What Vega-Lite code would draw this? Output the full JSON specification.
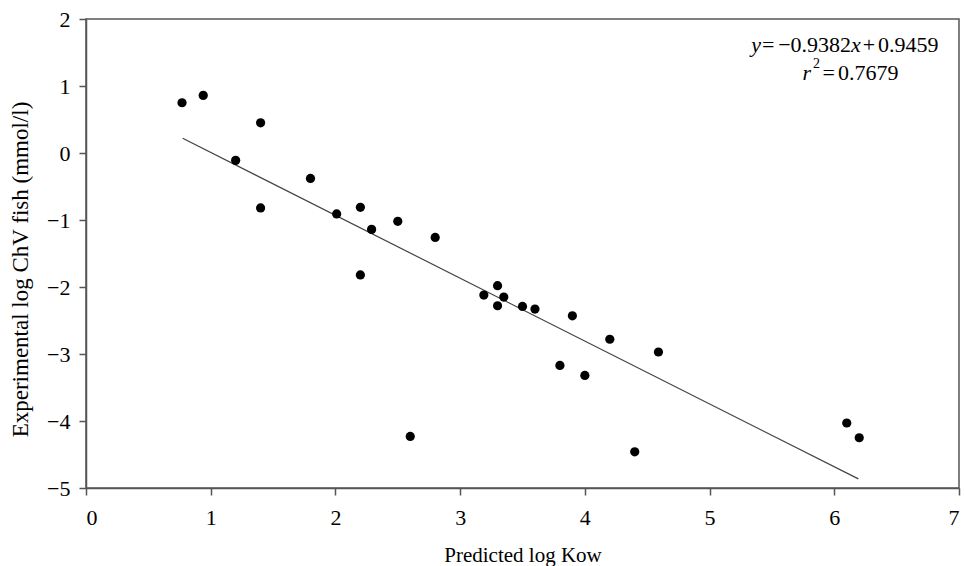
{
  "$schema": "https://vega.github.io/schema/vega-lite/v6.json",
  "width": 873,
  "height": 469,
  "autosize": "none",
  "padding": {"left": 86, "top": 19, "right": 5, "bottom": 78},
  "background": "white",
  "config": {
    "view": {"stroke": "#555555", "strokeWidth": 1.5},
    "font": "Liberation Serif",
    "axis": {
      "grid": false,
      "domainColor": "#555555",
      "domainWidth": 1.5,
      "tickColor": "#555555",
      "tickWidth": 1.5,
      "tickSize": 7,
      "labelFont": "Liberation Serif",
      "labelFontSize": 22,
      "labelColor": "black",
      "titleFont": "Liberation Serif",
      "titleFontWeight": "normal",
      "titleColor": "black"
    }
  },
  "datasets": {
    "points": [
      {"kow": 0.77, "chv": 0.75},
      {"kow": 0.94, "chv": 0.86},
      {"kow": 1.4, "chv": 0.45},
      {"kow": 1.2, "chv": -0.11},
      {"kow": 1.4, "chv": -0.82},
      {"kow": 1.8, "chv": -0.38},
      {"kow": 2.01, "chv": -0.91},
      {"kow": 2.2, "chv": -0.81},
      {"kow": 2.29, "chv": -1.14},
      {"kow": 2.5, "chv": -1.02},
      {"kow": 2.8, "chv": -1.26},
      {"kow": 2.2, "chv": -1.82},
      {"kow": 3.3, "chv": -1.98},
      {"kow": 3.19, "chv": -2.12},
      {"kow": 3.35, "chv": -2.15},
      {"kow": 3.3, "chv": -2.28},
      {"kow": 3.5, "chv": -2.29},
      {"kow": 3.6, "chv": -2.33},
      {"kow": 3.9, "chv": -2.43},
      {"kow": 4.2, "chv": -2.78},
      {"kow": 4.59, "chv": -2.97},
      {"kow": 3.8, "chv": -3.17},
      {"kow": 4.0, "chv": -3.32},
      {"kow": 2.6, "chv": -4.23},
      {"kow": 4.4, "chv": -4.46},
      {"kow": 6.1, "chv": -4.03},
      {"kow": 6.2, "chv": -4.25}
    ],
    "fit": [
      {"kow": 0.775, "chv": 0.219},
      {"kow": 6.193, "chv": -4.864}
    ],
    "notes": [
      {"x": 5.335, "y": 1.61, "t": "y", "s": "italic"},
      {"x": 5.42, "y": 1.61, "t": "=", "s": "normal"},
      {"x": 5.55, "y": 1.61, "t": "−0.9382", "s": "normal"},
      {"x": 6.135, "y": 1.61, "t": "x", "s": "italic"},
      {"x": 6.228, "y": 1.61, "t": "+", "s": "normal"},
      {"x": 6.35, "y": 1.61, "t": "0.9459", "s": "normal"},
      {"x": 5.745, "y": 1.19, "t": "r", "s": "italic"},
      {"x": 5.83, "y": 1.33, "t": "2", "s": "sup"},
      {"x": 5.905, "y": 1.19, "t": "=", "s": "normal"},
      {"x": 6.03, "y": 1.19, "t": "0.7679", "s": "normal"}
    ]
  },
  "layer": [
    {
      "data": {"name": "fit"},
      "mark": {"type": "line", "color": "#444444", "strokeWidth": 1.2},
      "encoding": {
        "x": {
          "field": "kow", "type": "quantitative",
          "scale": {"domain": [0, 7], "nice": false, "zero": false},
          "axis": {"values": [0, 1, 2, 3, 4, 5, 6, 7], "format": "d", "labelPadding": 12, "title": "Predicted log Kow", "titleFontSize": 21, "titlePadding": 16}
        },
        "y": {
          "field": "chv", "type": "quantitative",
          "scale": {"domain": [-5, 2], "nice": false, "zero": false},
          "axis": {"values": [-5, -4, -3, -2, -1, 0, 1, 2], "format": "d", "labelPadding": 9, "title": "Experimental log ChV fish (mmol/l)", "titleFontSize": 23, "titlePadding": 14, "titleY": 250}
        }
      }
    },
    {
      "data": {"name": "points"},
      "mark": {"type": "circle", "color": "black", "opacity": 1, "size": 85},
      "encoding": {
        "x": {"field": "kow", "type": "quantitative"},
        "y": {"field": "chv", "type": "quantitative"}
      }
    },
    {
      "data": {"name": "notes"},
      "transform": [{"filter": "datum.s === 'italic'"}],
      "mark": {"type": "text", "align": "left", "baseline": "middle", "fontSize": 22, "fontStyle": "italic", "color": "black", "font": "Liberation Serif"},
      "encoding": {
        "x": {"field": "x", "type": "quantitative"},
        "y": {"field": "y", "type": "quantitative"},
        "text": {"field": "t"}
      }
    },
    {
      "data": {"name": "notes"},
      "transform": [{"filter": "datum.s === 'normal'"}],
      "mark": {"type": "text", "align": "left", "baseline": "middle", "fontSize": 22, "color": "black", "font": "Liberation Serif"},
      "encoding": {
        "x": {"field": "x", "type": "quantitative"},
        "y": {"field": "y", "type": "quantitative"},
        "text": {"field": "t"}
      }
    },
    {
      "data": {"name": "notes"},
      "transform": [{"filter": "datum.s === 'sup'"}],
      "mark": {"type": "text", "align": "left", "baseline": "middle", "fontSize": 14, "color": "black", "font": "Liberation Serif"},
      "encoding": {
        "x": {"field": "x", "type": "quantitative"},
        "y": {"field": "y", "type": "quantitative"},
        "text": {"field": "t"}
      }
    }
  ]
}
